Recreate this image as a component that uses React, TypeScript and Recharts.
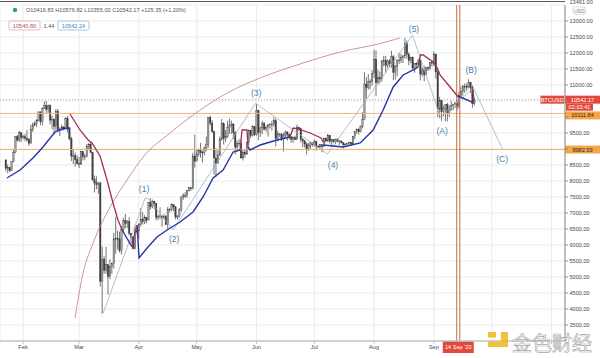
import React from 'react';
import {
  ComposedChart, Bar, Line, XAxis, YAxis, CartesianGrid, ReferenceLine, Scatter,
} from 'recharts';

// ---- daily candles [high, low, close]; open = previous close ----
const firstOpen = 8660;
const jan = [
  [8670, 8300, 8390], [8520, 8240, 8430], [8440, 8280, 8330], [8610, 8310, 8600], [8980, 8580, 8890],
  [9400, 8870, 9390], [9440, 9230, 9280], [9570, 9220, 9510], [9520, 9220, 9350],
];
const feb = [
  [9440, 9300, 9380], [9470, 9240, 9330], [9600, 9220, 9290], [9350, 9100, 9180], [9760, 9170, 9620],
  [9830, 9530, 9750], [9860, 9710, 9800], [9940, 9680, 9900], [10160, 9870, 10160], [10170, 9750, 9850],
  [10300, 9730, 10270], [10480, 10250, 10350], [10500, 10090, 10240], [10390, 10130, 10360], [10390, 9770, 9900],
  [10050, 9620, 9930], [9960, 9450, 9700], [10250, 9570, 10180], [10250, 9580, 9600], [9670, 9400, 9610],
  [9770, 9580, 9690], [9710, 9580, 9660], [9990, 9650, 9960], [10030, 9520, 9660], [9670, 9270, 9320],
  [9380, 8620, 8780], [8970, 8530, 8790], [8890, 8450, 8670], [8800, 8520, 8540],
];
const mar = [
  [8750, 8410, 8530], [8950, 8500, 8920], [8930, 8640, 8760], [8850, 8660, 8760], [9150, 8740, 9070],
  [9180, 9000, 9150], [9220, 8870, 8900], [8900, 8010, 8040], [8170, 7640, 7940], [8150, 7740, 7890],
  [7970, 7600, 7940], [7960, 4700, 4860], [5950, 3850, 5560], [5650, 5100, 5200], [5940, 5100, 5390],
  [5380, 4450, 5010], [5550, 4940, 5330], [5450, 5100, 5420], [6380, 5260, 6190], [6880, 5730, 6200],
  [6450, 5860, 6190], [6420, 5770, 5830], [6590, 5700, 6490], [6850, 6400, 6760], [6970, 6530, 6680],
  [6780, 6530, 6740], [6870, 6300, 6370], [6370, 6030, 6250], [6270, 5870, 5880], [6600, 5860, 6410],
  [6520, 6340, 6440],
];
const apr = [
  [6680, 6180, 6640], [7150, 6580, 6790], [7030, 6640, 6730], [6930, 6650, 6860], [6880, 6680, 6780],
  [7350, 6770, 7330], [7460, 7110, 7200], [7420, 7150, 7370], [7380, 7120, 7300], [7310, 6770, 6860],
  [6950, 6780, 6890], [7180, 6810, 6910], [6920, 6570, 6860], [6970, 6800, 6880], [6940, 6620, 6640],
  [7190, 6480, 7120], [7150, 7020, 7100], [7300, 7050, 7260], [7260, 7060, 7190], [7220, 6800, 6880],
  [6940, 6790, 6880], [7150, 6860, 7120], [7520, 7040, 7500], [7620, 7410, 7540], [7650, 7470, 7550],
  [7720, 7480, 7700], [7800, 7670, 7790], [7790, 7690, 7760], [8880, 7740, 8780], [9450, 8420, 8620],
];
const may = [
  [8970, 8620, 8830], [9010, 8760, 8970], [9190, 8730, 8900], [8950, 8580, 8880], [9080, 8800, 9030],
  [9390, 8940, 9150], [9990, 9040, 9990], [10040, 9730, 9810], [9900, 9510, 9540], [9570, 8200, 8720],
  [9020, 8120, 8560], [8960, 8540, 8810], [9390, 8790, 9310], [9940, 9260, 9790], [9840, 9140, 9320],
  [9590, 9220, 9380], [9880, 9340, 9670], [9950, 9480, 9730], [9890, 9470, 9780], [9810, 9310, 9510],
  [9560, 8830, 9060], [9260, 8960, 9170], [9310, 9080, 9180], [9300, 8700, 8720], [8980, 8640, 8900],
  [9000, 8720, 8840], [9220, 8820, 9200], [9610, 9110, 9580], [9600, 9340, 9420], [9740, 9390, 9700],
  [9720, 9400, 9450],
];
const jun = [
  [10400, 9420, 10200], [10230, 9270, 9520], [9690, 9380, 9660], [9880, 9460, 9800], [9850, 9580, 9620],
  [9730, 9540, 9670], [9790, 9390, 9750], [9800, 9640, 9780], [9880, 9570, 9770], [9990, 9700, 9880],
  [9950, 9080, 9320], [9570, 9240, 9470], [9500, 9380, 9470], [9490, 9250, 9340], [9500, 8920, 9430],
  [9580, 9370, 9530], [9560, 9260, 9450], [9480, 9300, 9380], [9390, 9200, 9300], [9390, 9190, 9360],
  [9420, 9280, 9290], [9760, 9280, 9680], [9700, 9560, 9630], [9660, 9200, 9300], [9340, 9060, 9250],
  [9290, 9050, 9160], [9200, 8830, 9010], [9190, 8940, 9120], [9230, 9010, 9190], [9200, 9080, 9140],
];
const jul = [
  [9300, 9080, 9230], [9260, 8950, 9090], [9120, 9040, 9060], [9160, 9030, 9130], [9140, 8900, 9070],
  [9360, 9060, 9340], [9360, 9200, 9250], [9470, 9230, 9430], [9440, 9170, 9230], [9300, 9130, 9290],
  [9300, 9190, 9240], [9330, 9150, 9300], [9340, 9200, 9240], [9280, 9120, 9250], [9270, 9170, 9200],
  [9210, 9020, 9130], [9190, 9080, 9150], [9190, 9120, 9170], [9230, 9110, 9210], [9220, 9130, 9160],
  [9410, 9150, 9390], [9550, 9300, 9540], [9640, 9480, 9600], [9640, 9450, 9540], [9740, 9520, 9700],
  [10150, 9650, 9930], [11400, 9920, 11030], [11240, 10590, 10920], [11340, 10850, 11100], [11180, 10870, 11110],
  [11460, 10980, 11350],
];
const aug = [
  [12100, 11220, 11800], [12080, 10650, 11070], [11480, 11010, 11230], [11420, 11050, 11190], [11790, 11100, 11740],
  [11910, 11590, 11770], [11910, 11370, 11600], [11800, 11530, 11750], [11810, 11550, 11680], [12070, 11540, 11880],
  [11940, 11150, 11400], [11620, 11170, 11580], [11800, 11270, 11780], [12000, 11660, 11770], [11980, 11690, 11860],
  [11930, 11690, 11910], [12470, 11820, 12300], [12390, 11830, 11960], [12020, 11610, 11760], [11880, 11680, 11860],
  [11890, 11480, 11530], [11690, 11380, 11680], [11710, 11530, 11650], [11820, 11600, 11770], [11780, 11140, 11340],
  [11540, 11260, 11470], [11600, 11120, 11320], [11550, 11290, 11540], [11580, 11440, 11510], [11720, 11470, 11710],
  [11770, 11580, 11680],
];
const sep = [
  [12050, 11590, 11970], [11970, 11200, 11410], [11470, 10000, 10250], [10630, 9960, 10510], [10560, 9880, 10170],
  [10360, 10020, 10260], [10400, 9870, 10390], [10440, 9860, 10130], [10360, 10000, 10230], [10500, 10200, 10350],
  [10400, 10210, 10390], [10460, 10280, 10440], [10550, 10210, 10330], [10790, 10260, 10680], [10940, 10620, 10790],
  [11000, 10660, 10950], [11050, 10750, 10950], [11040, 10810, 10940], [11180, 10890, 11090], [11050, 10750, 10920],
  [10990, 10290, 10416.83], [10576.82, 10355, 10542.17],
];
// first day index of each block (Feb 1 = day 0)
const blocks: [number, number[][]][] = [
  [-9, jan], [0, feb], [29, mar], [60, apr], [90, may], [121, jun], [151, jul], [182, aug], [213, sep],
];

// ---- axis ticks ----
const monthTicks = [0, 29, 60, 90, 121, 151, 182, 213, 243, 274];
const monthNames = ['Feb', 'Mar', 'Apr', 'May', 'Jun', 'Jul', 'Aug', 'Sep'];
const priceTicks = [3500, 4000, 4500, 5000, 5500, 6000, 6500, 7000, 7500, 8000, 8500, 9000, 9500, 10000, 10500, 11000, 11500, 12000, 12500, 13000];
const hiddenPriceLabels = [9000, 10000, 10500];

// ---- levels ----
const lastPrice = 10542.17;
const level1 = 10111.84;
const level2 = 8982.59;
const markerDay = 225.65;
const markerLabel = "14 Sep '20";
const axisTop = '13491.00';
const legendText = 'O10416.83 H10576.82 L10355.00 C10542.17 +125.35 (+1.20%)';
const indRed = '10540.80';
const indMid = '1.44';
const indBlue = '10542.24';

// ---- indicator (blue = support, red = resistance) [day, value] ----
const blueSegs = [
  [[-8.4, 8094], [-1.6, 8344], [5.1, 8719], [10.3, 9063], [16.5, 9531], [20.2, 9625], [24.3, 9656]],
  [[51.3, 6469], [56.5, 5938]],
  [[59.1, 6625], [60.1, 5594], [64.3, 5906], [69.4, 6250], [74.6, 6469], [81.4, 6719], [88.1, 7031], [93.3, 7500], [98.5, 8094], [103.7, 8344], [108.9, 8906], [112.5, 8969]],
  [[116.6, 9063], [117.7, 8969], [122.9, 9125], [131.7, 9281], [138.4, 9375]],
  [[155.6, 9125], [166, 9063], [174.8, 9188], [181.5, 9594], [186.7, 10219], [191.9, 10938], [197.1, 11313], [202.3, 11469], [204.9, 11563]],
  [[225.6, 10656], [233.7, 10438]],
];
const redSegs = [
  [[24.3, 10094], [29.5, 9594], [33.7, 9281], [35.7, 9188], [39.9, 8781], [43.5, 8031], [46.6, 7313], [49.2, 6781], [51.3, 6469]],
  [[56.5, 5938], [57.6, 6300], [59.1, 6625]],
  [[112.5, 8969], [113.5, 9594], [116.1, 9594], [116.6, 9063]],
  [[138.4, 9375], [140, 9656], [142.6, 9625], [148.8, 9500], [154.5, 9344], [155.6, 9219]],
  [[204.9, 11563], [206, 11938], [207.5, 11940], [212.6, 11719], [214.8, 11531], [216.2, 11313], [221.4, 10938], [225.6, 10625]],
  [[233.2, 10850], [233.9, 10480]],
];

// ---- Elliott wave path and labels ----
const wavePath = [[41.5, 3875], [63.3, 7470], [65, 7440], [77.8, 6470], [120.5, 10430], [157.8, 8844], [201.9, 12562], [216.4, 10000], [233.5, 10906], [248.6, 9000]];
const waveLabels: [number, number, string][] = [
  [62.7, 7750, '(1)'], [78.3, 6188, '(2)'], [120.8, 10750, '(3)'], [160.7, 8500, '(4)'],
  [202.7, 12750, '(5)'], [217.3, 9563, '(A)'], [232.3, 11469, '(B)'], [248.4, 8688, '(C)'],
];
// ---- arc ----
const arcPath = [[26.9, 3719], [31.1, 5125], [36.3, 6063], [45.1, 7188], [53.9, 8031], [62.2, 8750], [76.2, 9500], [91.8, 10219], [105.8, 10750], [122.9, 11219], [143.6, 11656], [164.5, 12031], [185.3, 12300], [195.5, 12470]];

// ---- build ----
const candles: any[] = [];
{
  let prev = firstOpen;
  blocks.forEach(([start, rows]) => {
    rows.forEach((r, i) => {
      candles.push({ d: start + i, o: prev, h: r[0], l: r[1], c: r[2] });
      prev = r[2];
    });
  });
}
const toPts = (a: number[][]) => a.map(([d, v]) => ({ d, v }));
const waveData = waveLabels.map(([d, v, t]) => ({ d, v, t }));

const FONT = "'Liberation Sans', Arial, sans-serif";

function Candle(props: any) {
  const { x, y, width, height, payload } = props;
  if (!payload || y == null || height == null) return null;
  const top0 = Math.min(y, y + height);
  const hh = Math.abs(height);
  const { o, h, l, c } = payload;
  const range = h - l || 1;
  const py = (v: number) => top0 + ((h - v) / range) * hh;
  const cx = x + width / 2;
  const bt = py(Math.max(o, c));
  const bb = py(Math.min(o, c));
  const up = c >= o;
  return (
    <g>
      <line x1={cx} x2={cx} y1={top0} y2={top0 + hh} stroke="#3a3a3a" strokeWidth={0.7} />
      <rect x={cx - 0.75} y={bt} width={1.5} height={Math.max(bb - bt, 0.7)}
        fill={up ? '#a0a0a0' : '#404040'} stroke="#2f2f2f" strokeWidth={0.3} />
    </g>
  );
}

function PriceTick(props: any) {
  const { x, y, payload } = props;
  if (!payload || hiddenPriceLabels.includes(payload.value)) return null;
  return (
    <text x={x} y={y + 2} fill="#4a4a4a" fontFamily={FONT} fontSize={5.6} textAnchor="start">
      {Number(payload.value).toFixed(2)}
    </text>
  );
}

const boxText = { fontFamily: FONT, fontSize: 5.6 } as const;

function LastPriceLabel(props: any) {
  const vb = props.viewBox;
  if (!vb) return null;
  const yy = vb.y;
  const xr = vb.x + vb.width;
  return (
    <g>
      <rect x={xr - 24.5} y={yy - 4} width={23.5} height={8} fill="#e2483c" />
      <text x={xr - 12.75} y={yy + 2} textAnchor="middle" fill="#fff" {...boxText}>BTCUSD</text>
      <rect x={xr} y={yy - 4} width={35} height={8} fill="#e2483c" />
      <text x={xr + 17.5} y={yy + 2} textAnchor="middle" fill="#fff" {...boxText}>{lastPrice.toFixed(2)}</text>
      <rect x={xr + 1} y={yy + 4} width={27} height={7} fill="#e2483c" />
      <text x={xr + 14.5} y={yy + 9.6} textAnchor="middle" fill="#fff" {...boxText}>02:03:41</text>
    </g>
  );
}

function LevelLabel(props: any) {
  const vb = props.viewBox;
  if (!vb) return null;
  const yy = vb.y + (props.shift || 0);
  const xr = vb.x + vb.width;
  return (
    <g>
      <rect x={xr} y={yy - 4} width={35} height={8} fill="#f4a64a" />
      <text x={xr + 17.5} y={yy + 2} textAnchor="middle" fill="#2a2a2a" {...boxText}>{props.value}</text>
    </g>
  );
}

function DateLabel(props: any) {
  const vb = props.viewBox;
  if (!vb) return null;
  const xx = vb.x;
  const yb = vb.y + vb.height;
  return (
    <g>
      <rect x={xx - 15.5} y={yb} width={31} height={12} fill="#e2483c" />
      <text x={xx} y={yb + 8} textAnchor="middle" fill="#fff" {...boxText}>{markerLabel}</text>
    </g>
  );
}

function WaveText(props: any) {
  const { cx, cy, payload } = props;
  if (cx == null) return null;
  return (
    <text x={cx} y={cy + 3} textAnchor="middle" fill="#4b7fa9" fontFamily={FONT} fontSize={8.5}>{payload.t}</text>
  );
}

export default function App() {
  return (
    <div style={{ position: 'absolute', left: 0, top: 0, width: 600, height: 358, background: '#fff', overflow: 'hidden' }}>
      <ComposedChart width={600} height={358} data={candles} margin={{ top: 5, right: 0, bottom: 0, left: 0 }}>
        <CartesianGrid stroke="#ebebeb" strokeWidth={1} />
        <XAxis type="number" dataKey="d" domain={[-12, 281]} ticks={monthTicks} allowDataOverflow interval={0}
          tickFormatter={(v: number) => monthNames[monthTicks.indexOf(v)] || ''}
          height={17} tickSize={3} tickMargin={1.5}
          axisLine={{ stroke: '#c4c4c4', strokeWidth: 1.5 }} tickLine={{ stroke: '#c4c4c4' }}
          tick={{ fontSize: 5.6, fill: '#4a4a4a', fontFamily: FONT }} />
        <YAxis orientation="right" type="number" domain={[3000, 13500]} ticks={priceTicks} allowDataOverflow interval={0}
          width={35} tickSize={3} tickMargin={1.5}
          axisLine={{ stroke: '#8a8a8a' }} tickLine={{ stroke: '#8a8a8a' }}
          tick={<PriceTick />} />

        <ReferenceLine y={lastPrice} stroke="#c99a9a" strokeDasharray="1 2" label={<LastPriceLabel />} />
        <ReferenceLine y={level1} stroke="#f0b272" strokeWidth={1} label={<LevelLabel value={level1.toFixed(2)} shift={2} />} />
        <ReferenceLine y={level2} stroke="#f0b272" strokeWidth={1} label={<LevelLabel value={level2.toFixed(2)} />} />
        <ReferenceLine x={markerDay - 0.8} stroke="#c06a4a" strokeWidth={1} />
        <ReferenceLine x={markerDay + 0.8} stroke="#c06a4a" strokeWidth={1} />
        <ReferenceLine x={markerDay} stroke="none" label={<DateLabel />} />

        <Line data={toPts(arcPath)} dataKey="v" type="monotone" stroke="#c27a7a" strokeWidth={0.8} dot={false} isAnimationActive={false} />
        <Line data={toPts(wavePath)} dataKey="v" type="linear" stroke="#93b3cc" strokeWidth={0.8} dot={false} isAnimationActive={false} />

        <Bar dataKey={(e: any) => [e.l, e.h]} barSize={2} shape={<Candle />} isAnimationActive={false} />

        {blueSegs.map((s, i) => (
          <Line key={'b' + i} data={toPts(s)} dataKey="v" type="linear" stroke="#2433a6" strokeWidth={1.4} dot={false} isAnimationActive={false} />
        ))}
        {redSegs.map((s, i) => (
          <Line key={'r' + i} data={toPts(s)} dataKey="v" type="linear" stroke="#a3304f" strokeWidth={1.3} dot={false} isAnimationActive={false} />
        ))}
        <Scatter data={waveData} dataKey="v" shape={<WaveText />} isAnimationActive={false} />
      </ComposedChart>

      <svg width={600} height={358} style={{ position: 'absolute', left: 0, top: 0, pointerEvents: 'none' }}>
        <line x1={0} x2={565} y1={1.5} y2={1.5} stroke="#5a5a5a" strokeWidth={1} />
        <text x={569.5} y={4.3} fill="#4a4a4a" fontFamily={FONT} fontSize={5.6}>{axisTop}</text>
        <rect x={573} y={7} width={12.5} height={7.5} rx={1.5} fill="#fff" stroke="#c8c8c8" strokeWidth={0.6} />
        <text x={579.25} y={12.6} textAnchor="middle" fill="#777" fontFamily={FONT} fontSize={5}>USD</text>

        <circle cx={15} cy={10} r={2.2} fill="#2f9e72" />
        <text x={26} y={12} fill="#555" fontFamily={FONT} fontSize={5.6}>{legendText}</text>
        <rect x={9} y={21} width={31} height={9} rx={1.5} fill="#fff" stroke="#e09a9a" strokeWidth={0.7} />
        <text x={24.5} y={27.6} textAnchor="middle" fill="#c04e4e" fontFamily={FONT} fontSize={5.6}>{indRed}</text>
        <text x={43.5} y={27.6} fill="#555" fontFamily={FONT} fontSize={5.6}>{indMid}</text>
        <rect x={58} y={21} width={31} height={9} rx={1.5} fill="#fff" stroke="#7cb0da" strokeWidth={0.7} />
        <text x={73.5} y={27.6} textAnchor="middle" fill="#3f7fbf" fontFamily={FONT} fontSize={5.6}>{indBlue}</text>

        <g opacity={0.85}>
          <rect x={488} y={332} width={8} height={5.5} fill="#f2b51c" />
          <rect x={501} y={332} width={7} height={15} fill="#f2b51c" />
          <rect x={488} y={341.5} width={20} height={5.5} fill="#f2b51c" />
          <text x={512} y={351} fill="#ffffff" stroke="#9a9a9a" strokeWidth={0.7} fontFamily="'Noto Sans CJK SC', sans-serif" fontSize={20}>金色财经</text>
        </g>
      </svg>
    </div>
  );
}
